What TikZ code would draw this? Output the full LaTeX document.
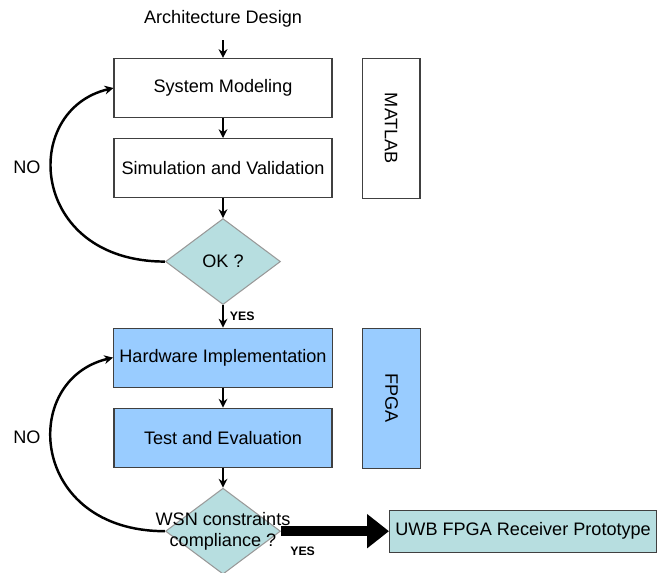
\documentclass[tikz,border=0pt]{standalone}
\usepackage{fontspec}
\setmainfont{Liberation Sans}
\usetikzlibrary{arrows.meta,positioning,shapes.geometric}
\definecolor{hwblue}{HTML}{99CCFF}
\definecolor{okteal}{HTML}{B7DEE0}
\begin{document}
\begin{tikzpicture}[x=0.02cm,y=-0.02cm,node distance=0.4cm,>={Stealth[length=5pt,width=5pt]},
  font=\fontsize{10.3}{12}\selectfont,
  box/.style={rectangle,draw=black!75,line width=0.6pt,minimum width=4.36cm,minimum height=1.18cm},
  tool/.style={rectangle,draw=black!75,line width=0.6pt,minimum width=1.16cm,minimum height=2.8cm},
  decision/.style={diamond,draw=black!40,line width=0.6pt,fill=okteal,inner sep=0pt,minimum width=2.3cm,minimum height=1.72cm},
  flow/.style={->,line width=1.2pt},
  loopback/.style={->,line width=1.4pt},
  tag/.style={font=\fontsize{7}{8}\selectfont\bfseries}]
\useasboundingbox (0,0) rectangle (658,573);
\node (sm) [box] at (223,88) {System Modeling};
\node (arch) [above=0.5cm of sm] {Architecture Design};
\node (sv) [box,below=of sm] {Simulation and Validation};
\node (ok) [decision,below=0.4cm of sv] {OK ?};
\node (hi) [box,fill=hwblue,below=0.45cm of ok] {Hardware Implementation};
\node (te) [box,fill=hwblue,below=of hi] {Test and Evaluation};
\node (wsn) [decision,below=0.4cm of te] {};
\node (uwb) [rectangle,draw=black!75,line width=0.6pt,fill=okteal,minimum width=5.26cm,minimum height=0.84cm,right=2.16cm of wsn] {UWB FPGA Receiver Prototype};
\node (matlab) [tool,right=0.58cm of sm.north east,anchor=north west] {\rotatebox{-90}{MATLAB}};
\node (fpga) [tool,fill=hwblue,right=0.58cm of hi.north east,anchor=north west] {\rotatebox{-90}{FPGA}};
\draw[flow,shorten <=4pt] (arch) -- (sm);
\draw[flow] (sm) -- (sv);
\draw[flow] (sv) -- (ok);
\draw[flow] (ok) -- node[tag,right] {YES} (hi);
\draw[flow] (hi) -- (te);
\draw[flow] (te) -- (wsn);
\draw[-{Triangle[length=0.44cm,width=0.66cm]},line width=6pt] (wsn) -- node[tag,pos=0.2,below=0.1cm] {YES} (uwb);
\node (wsntext) [align=center] at (wsn) {WSN constraints\\compliance ?};
% NO loops
\draw[loopback] (ok.west) .. controls +(-136,0) and +(-94,22) .. (sm.west);
\draw[loopback] (wsn.west) .. controls +(-136,0) and +(-94,22) .. (hi.west);
\node (no1) at (27,167) {NO};
\node (no2) at (27,437) {NO};
\end{tikzpicture}
\end{document}
